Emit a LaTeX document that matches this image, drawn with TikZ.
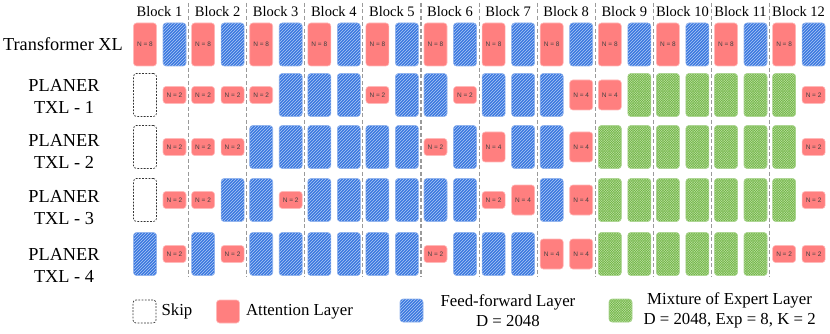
\documentclass[tikz,border=0pt]{standalone}
\usepackage{fontspec}
\setmainfont{Liberation Serif}
\newfontfamily\tagfont{Liberation Sans}
\usetikzlibrary{positioning, patterns}
\definecolor{attnRed}{HTML}{FF7F7F}
\definecolor{ffnBlue}{HTML}{3A78E0}
\definecolor{moeGreen}{HTML}{6CB43C}
\definecolor{gridGray}{HTML}{9A9A9A}

% fine checker for the MoE boxes
\pgfdeclarepatternformonly{finechecker}{\pgfqpoint{-.1pt}{-.1pt}}{\pgfqpoint{2.5pt}{2.5pt}}{\pgfqpoint{2.4pt}{2.4pt}}{
  \pgfpathrectangle{\pgfqpoint{0pt}{0pt}}{\pgfqpoint{1.2pt}{1.2pt}}
  \pgfpathrectangle{\pgfqpoint{1.2pt}{1.2pt}}{\pgfqpoint{1.2pt}{1.2pt}}
  \pgfusepath{fill}}

\begin{document}
\begin{tikzpicture}[
  x=1pt, y=-1pt,
  cell/.style={rectangle, rounded corners=3pt, minimum width=23pt, inner sep=0pt},
  attn/.style={cell, fill=attnRed, draw=attnRed!55!white, line width=0.6pt,
               text=black!75, font=\tagfont\fontsize{6.5}{7}\selectfont},
  a8/.style={attn, minimum height=43pt, node contents={N = 8}},
  a4/.style={attn, minimum height=30pt, node contents={N = 4}},
  a2/.style={attn, minimum height=17pt, node contents={N = 2}},
  ff/.style={cell, minimum height=43pt, draw=ffnBlue!55!white, line width=0.6pt,
             preaction={fill=ffnBlue}, pattern=north east lines,
             pattern color=white!60!ffnBlue, node contents={}},
  moe/.style={cell, minimum height=43pt, draw=moeGreen!55!white, line width=0.6pt,
              preaction={fill=moeGreen}, pattern=finechecker,
              pattern color=moeGreen!55!white, node contents={}},
  skip/.style={cell, minimum height=43pt, draw=black!80, line width=0.7pt,
               dash pattern=on 1.8pt off 1.4pt, node contents={}},
  divider/.style={draw=gridGray, line width=1.1pt, dash pattern=on 4pt off 2.5pt},
  head/.style={font=\fontsize{14.5}{17}\selectfont},
  rowlabel/.style={align=center, font=\fontsize{18.3}{22}\selectfont},
  legtext/.style={align=center, inner sep=0pt, font=\fontsize{16.8}{20}\selectfont}
]
\useasboundingbox (0,0) rectangle (830,334);

% block separators and headers
\foreach \k in {1,...,11}
  \draw[divider] ({188.6+58.1*(\k-1)}, 3) -- ({188.6+58.1*(\k-1)}, 277);
\foreach \k in {1,...,12}
  \node[head] (h\k) at ({159.5+58.1*(\k-1)}, 12) {Block \k};

% row labels
\node[rowlabel] (lab0) at (63, 44.5) {Transformer XL};
\node[rowlabel] (lab1) at (64, 96) {PLANER\\TXL - 1};
\node[rowlabel] (lab2) at (64, 151) {PLANER\\TXL - 2};
\node[rowlabel] (lab3) at (64, 208) {PLANER\\TXL - 3};
\node[rowlabel] (lab4) at (64, 265) {PLANER\\TXL - 4};

% layer boxes, two slots per block
\foreach \r/\ry/\cells in {
  0/44.5/{a8,ff,a8,ff,a8,ff,a8,ff,a8,ff,a8,ff,a8,ff,a8,ff,a8,ff,a8,ff,a8,ff,a8,ff},
  1/95/{skip,a2,a2,a2,a2,ff,ff,ff,a2,ff,ff,a2,ff,ff,ff,a4,a4,moe,moe,moe,moe,moe,moe,a2},
  2/147/{skip,a2,a2,a2,ff,ff,ff,ff,ff,ff,a2,ff,a4,ff,ff,a4,moe,moe,moe,moe,moe,moe,moe,a2},
  3/200/{skip,a2,a2,ff,ff,a2,ff,ff,ff,ff,ff,ff,a2,a4,ff,a4,moe,moe,moe,moe,moe,moe,moe,a2},
  4/254/{ff,a2,ff,a2,ff,ff,ff,ff,ff,ff,a2,ff,ff,ff,a4,a4,moe,moe,moe,moe,moe,moe,a2,a2}}
{
  \foreach \t [count=\i] in \cells {
    \pgfmathsetmacro\cx{145+58.1*int((\i-1)/2)+29.5*mod(\i-1,2)}
    \node (c\r-\i) [\t, at={(\cx,\ry)}];
  }
}

% legend
\node (legskip) [skip, minimum height=23pt, at={(144.5,311.5)}];
\node[legtext, right=5pt of legskip] (legskiptxt) {Skip};
\node[attn, minimum height=23pt, at={(228,311.5)}] (legattn) {};
\node[legtext, right=6pt of legattn] (legattntxt) {Attention Layer};
\node (legffn) [ff, minimum height=23pt, at={(411.5,310.5)}];
\node[legtext, right=17pt of legffn] (legffntxt) {Feed-forward Layer\\D = 2048};
\node (legmoe) [moe, minimum height=23pt, at={(620.5,310.5)}];
\node[legtext, right=11pt of legmoe] (legmoetxt) {Mixture of Expert Layer\\D = 2048, Exp = 8, K = 2};
\end{tikzpicture}
\end{document}
